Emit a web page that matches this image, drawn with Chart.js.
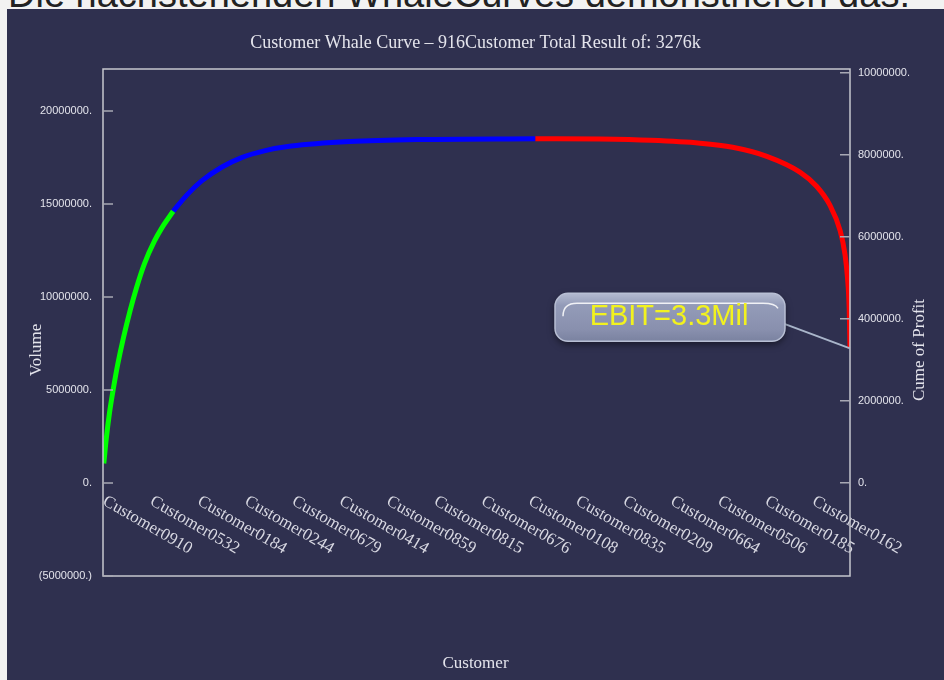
<!DOCTYPE html>
<html>
<head>
<meta charset="utf-8">
<title>Customer Whale Curve</title>
<script src="https://cdn.jsdelivr.net/npm/chart.js@4.4.1/dist/chart.umd.min.js"></script>
<style>
  html, body { margin: 0; padding: 0; }
  body { width: 944px; height: 680px; overflow: hidden; background: #f2f2f2; position: relative; font-family: "Liberation Sans", Arial, sans-serif; }
  #intro { position: absolute; left: 8px; top: -25px; margin: 0; font-size: 38px; line-height: 38px; color: #222; white-space: nowrap; }
  #panel { position: absolute; left: 7px; top: 9px; width: 937px; height: 671px; background: #2f304f; }
  canvas { display: block; }
</style>
</head>
<body>
<p id="intro">Die nächstehenden WhaleCurves demonstrieren das:</p>
<div id="panel"><canvas id="whaleChart" width="937" height="671"></canvas></div>
<script>
const totalCustomers = 916;

// x axis names, one every 58 customers (rank 1 = best customer)
const tickRanks = [1, 59, 117, 175, 233, 291, 349, 407, 465, 523, 581, 639, 697, 755, 813, 871];
const tickCustomers = ['Customer0910', 'Customer0532', 'Customer0184', 'Customer0244',
  'Customer0679', 'Customer0414', 'Customer0859', 'Customer0815', 'Customer0676',
  'Customer0108', 'Customer0835', 'Customer0209', 'Customer0664', 'Customer0506',
  'Customer0185', 'Customer0162'];

const volumeTicks = [-5000000, 0, 5000000, 10000000, 15000000, 20000000];
const profitTicks = [0, 2000000, 4000000, 6000000, 8000000, 10000000];

// cumulative profit by customer rank, split into the three bands
const greenRank = [1, 4, 8, 13, 18, 25, 33, 41, 51, 63, 72, 86];
const greenProfit = [470000, 1070000, 1710000, 2330000, 2880000, 3530000, 4180000, 4750000, 5350000, 5890000, 6210000, 6620000];
const blueRank = [86, 103, 121, 146, 170, 199, 231, 303, 389, 530];
const blueProfit = [6620000, 7020000, 7360000, 7700000, 7930000, 8100000, 8210000, 8320000, 8370000, 8390000];
const redRank = [530, 609, 671, 732, 772, 814, 855, 875, 891, 904, 910, 913, 915, 916];
const redProfit = [8390000, 8380000, 8350000, 8280000, 8180000, 7960000, 7570000, 7230000, 6780000, 6140000, 5550000, 4980000, 4250000, 3276000];

const totalResult = redProfit[redProfit.length - 1];
const volumeTitle = 'Volume';
const profitTitle = 'Cume of Profit';
const textColor = '#e4e4ec';

const fmtNumber = v => v < 0 ? '(' + (-v) + '.)' : v + '.';

const segment = (ranks, values, color) => ({
  data: ranks.map((r, i) => ({ x: r, y: values[i] })),
  borderColor: color,
  borderWidth: 5,
  borderCapStyle: 'butt',
  pointRadius: 0,
  cubicInterpolationMode: 'monotone',
  fill: false,
  xAxisID: 'x',
  yAxisID: 'y1'
});

function drawCallout(ctx, ex, ey, text) {
  const bw = 230, bh = 48, r = 13;
  const bx = ex - 295, by = ey - 55;

  // leader to the last customer
  ctx.strokeStyle = '#a9b5ca';
  ctx.lineWidth = 2;
  ctx.beginPath();
  ctx.moveTo(bx + bw - 2, by + 30);
  ctx.lineTo(ex, ey);
  ctx.stroke();

  ctx.save();
  ctx.shadowColor = 'rgba(0, 0, 0, 0.5)';
  ctx.shadowBlur = 7;
  ctx.shadowOffsetY = 3;
  const g = ctx.createLinearGradient(0, by, 0, by + bh);
  g.addColorStop(0, '#b3bad0');
  g.addColorStop(0.25, '#939bb8');
  g.addColorStop(0.75, '#8990ae');
  g.addColorStop(1, '#7a82a0');
  ctx.fillStyle = g;
  ctx.beginPath();
  ctx.roundRect(bx, by, bw, bh, r);
  ctx.fill();
  ctx.restore();

  ctx.strokeStyle = '#b8bfd4';
  ctx.lineWidth = 1.5;
  ctx.beginPath();
  ctx.roundRect(bx, by, bw, bh, r);
  ctx.stroke();

  // glossy rim along the top
  ctx.strokeStyle = 'rgba(255, 255, 255, 0.85)';
  ctx.lineWidth = 1.5;
  ctx.beginPath();
  ctx.moveTo(bx + 8, by + 23);
  ctx.quadraticCurveTo(bx + 8, by + 10, bx + 22, by + 10);
  ctx.lineTo(bx + bw - 22, by + 10);
  ctx.quadraticCurveTo(bx + bw - 10, by + 10, bx + bw - 7, by + 15);
  ctx.stroke();

  ctx.fillStyle = '#f2f21e';
  ctx.font = '29px "Liberation Sans", Arial, sans-serif';
  ctx.textAlign = 'center';
  ctx.textBaseline = 'middle';
  ctx.fillText(text, bx + bw / 2 - 1, by + bh / 2);
}

const whaleDecor = {
  id: 'whaleDecor',
  afterDatasetsDraw(chart) {
    const { ctx, chartArea: a, scales } = chart;
    const xs = scales.x, yl = scales.y, yr = scales.y1;
    ctx.save();

    // customer names sit on the zero line, slanting down to the right
    ctx.fillStyle = '#d8d8e2';
    ctx.font = '17px "Liberation Serif", serif';
    ctx.textAlign = 'left';
    ctx.textBaseline = 'alphabetic';
    const zeroY = yl.getPixelForValue(0);
    tickRanks.forEach((rank, i) => {
      ctx.save();
      ctx.translate(xs.getPixelForValue(rank) - 2, zeroY + 21);
      ctx.rotate(30 * Math.PI / 180);
      ctx.fillText(tickCustomers[i], 0, 0);
      ctx.restore();
    });

    // frame and inward tick marks
    ctx.strokeStyle = '#c6c6ce';
    ctx.lineWidth = 1.5;
    ctx.strokeRect(a.left, a.top, a.right - a.left, a.bottom - a.top);
    ctx.strokeStyle = '#a8a8b4';
    ctx.beginPath();
    volumeTicks.forEach(v => {
      const py = yl.getPixelForValue(v);
      ctx.moveTo(a.left, py);
      ctx.lineTo(a.left + 10, py);
    });
    profitTicks.forEach(v => {
      const py = yr.getPixelForValue(v);
      ctx.moveTo(a.right - 10, py);
      ctx.lineTo(a.right, py);
    });
    ctx.stroke();

    // axis titles, both reading bottom to top
    ctx.fillStyle = textColor;
    ctx.font = '17px "Liberation Serif", serif';
    ctx.textAlign = 'center';
    ctx.textBaseline = 'middle';
    [[a.left - 66, volumeTitle], [a.right + 70, profitTitle]].forEach(([tx, t]) => {
      ctx.save();
      ctx.translate(tx, a.top + 281);
      ctx.rotate(-Math.PI / 2);
      ctx.fillText(t, 0, 0);
      ctx.restore();
    });

    drawCallout(ctx,
      xs.getPixelForValue(redRank[redRank.length - 1]),
      yr.getPixelForValue(totalResult),
      'EBIT=' + (totalResult / 1e6).toFixed(1) + 'Mil');

    ctx.restore();
  }
};

new Chart(document.getElementById('whaleChart'), {
  type: 'line',
  data: {
    datasets: [
      segment(greenRank, greenProfit, '#00ff00'),
      segment(blueRank, blueProfit, '#0000ff'),
      segment(redRank, redProfit, '#ff0000')
    ]
  },
  options: {
    responsive: false,
    animation: false,
    devicePixelRatio: 1,
    layout: { padding: 0 },
    plugins: {
      legend: { display: false },
      tooltip: { enabled: false },
      title: {
        display: true,
        text: 'Customer Whale Curve \u2013 ' + totalCustomers + 'Customer Total Result of: ' + Math.round(totalResult / 1000) + 'k',
        color: textColor,
        font: { family: '"Liberation Serif", serif', size: 18, weight: 'normal', lineHeight: 1.2 },
        padding: { top: 23, bottom: 15.4 }
      },
      subtitle: {
        display: true,
        position: 'bottom',
        text: 'Customer',
        color: textColor,
        font: { family: '"Liberation Serif", serif', size: 17, weight: 'normal', lineHeight: 1.2 },
        padding: { top: 77.5, bottom: 6.1 }
      }
    },
    scales: {
      x: { type: 'linear', display: false, min: 0, max: totalCustomers },
      y: {
        position: 'left',
        min: -5000000,
        max: 22260000,
        afterBuildTicks: s => { s.ticks = volumeTicks.map(v => ({ value: v })); },
        afterFit: s => { s.width = 96; },
        grid: { display: false, drawTicks: false },
        border: { display: false },
        ticks: { color: textColor, padding: 11, font: { family: '"Liberation Sans", Arial, sans-serif', size: 11 }, callback: fmtNumber }
      },
      y1: {
        position: 'right',
        min: -2276000,
        max: 10090000,
        afterBuildTicks: s => { s.ticks = profitTicks.map(v => ({ value: v })); },
        afterFit: s => { s.width = 94; },
        grid: { display: false, drawTicks: false },
        border: { display: false },
        ticks: { color: textColor, padding: 8, font: { family: '"Liberation Sans", Arial, sans-serif', size: 11 }, callback: fmtNumber }
      }
    }
  },
  plugins: [whaleDecor]
});
</script>
</body>
</html>
